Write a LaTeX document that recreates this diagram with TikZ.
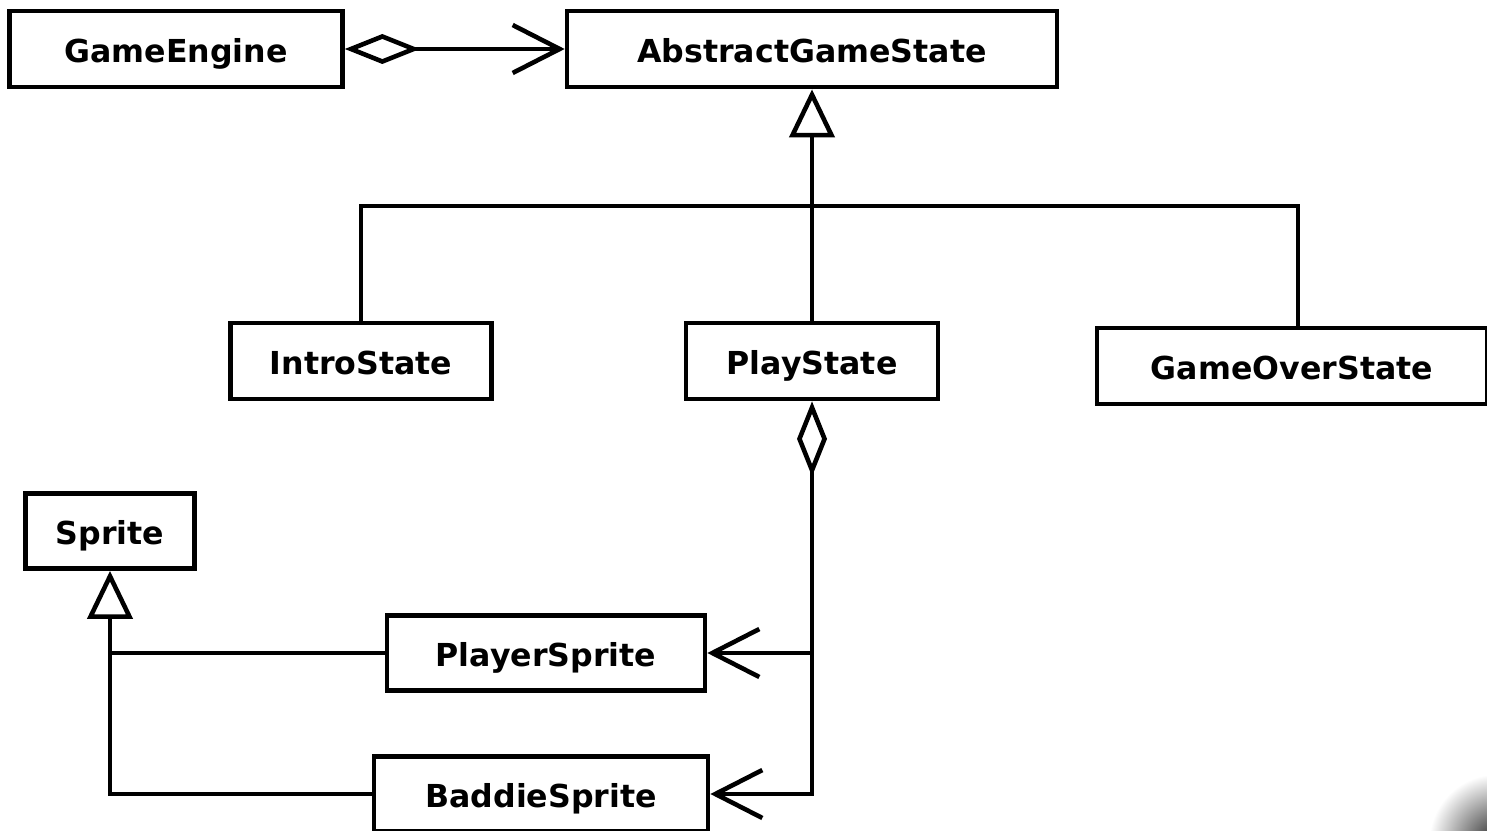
\documentclass[tikz,border=0pt]{standalone}
\usepackage{fontspec}
\setmainfont{DejaVu Sans}
\usetikzlibrary{arrows.meta}

\tikzset{
  whole/.tip={Diamond[open, length=1.5cm, width=0.6cm]},
  parent/.tip={Triangle[open, length=0.96cm, width=0.9cm]},
  barb/.tip={Straight Barb[length=0.94cm, width=0.96cm]}
}

\begin{document}
\begin{tikzpicture}[x=0.02cm, y=-0.02cm, line width=2.6pt,
    box/.style={draw, line width=2.7pt, inner sep=0pt, text height=15pt, text depth=0pt,
      font=\fontsize{18}{20}\selectfont\bfseries}]
    \useasboundingbox (0,0) rectangle (1487,831);
    % classes
    \node[box, minimum width=6.66cm, minimum height=1.52cm] (engine) at (176,49) {GameEngine};
    \node[box, minimum width=9.8cm, minimum height=1.52cm] (abstract) at (812,49) {AbstractGameState};
    \node[box, minimum width=5.22cm, minimum height=1.52cm] (intro) at (361,361) {IntroState};
    \node[box, minimum width=5.04cm, minimum height=1.52cm] (play) at (812,361) {PlayState};
    \node[box, minimum width=7.8cm, minimum height=1.52cm] (over) at (1292,366) {GameOverState};
    \node[box, minimum width=3.38cm, minimum height=1.5cm] (sprite) at (110,531) {Sprite};
    \node[box, minimum width=6.36cm, minimum height=1.5cm] (player) at (546,653) {PlayerSprite};
    \node[box, minimum width=6.68cm, minimum height=1.5cm] (baddie) at (541,794) {BaddieSprite};
    % engine holds the state
    \draw[whole-barb] (engine.east) -- (abstract.west);
    % state hierarchy
    \coordinate (fork) at (812,206);
    \draw[parent-] (abstract.south) -- (play.north);
    \draw (intro.north) |- (fork) -| ([xshift=0.12cm]over.north);
    % play state holds the sprites
    \draw[whole-barb] (play.south) |- (baddie.east);
    \draw[-barb] (play.south |- player.east) -- (player.east);
    % sprite hierarchy
    \draw[parent-] (sprite.south) |- (baddie.west);
    \draw (sprite.south |- player.west) -- (player.west);
    % page corner
    \begin{scope}
      \clip (1420,760) rectangle (1487,831);
      \shade[inner color=black!85, outer color=white] (1497,842) circle (68);
    \end{scope}
\end{tikzpicture}
\end{document}
